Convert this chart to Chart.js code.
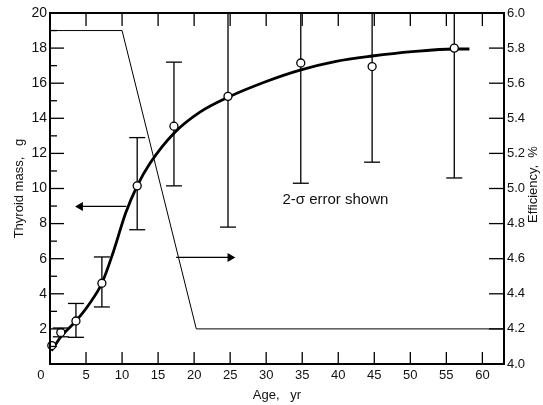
<!DOCTYPE html>
<html><head><meta charset="utf-8">
<script src="https://cdn.jsdelivr.net/npm/chart.js@4/dist/chart.umd.min.js"></script>
<style>html,body{margin:0;padding:0;background:#fff}#wrap{width:543px;height:405px}</style>
</head><body><div id="wrap"><canvas id="c" width="543" height="405"></canvas></div>
<script>
// ---- data ----
const ages        = [0.25, 1.5, 3.6, 7.2, 12.1, 17.2, 24.7, 34.8, 44.7, 56.1];
const thyroidMass = [1.05, 1.8, 2.45, 4.6, 10.15, 13.55, 15.25, 17.15, 16.95, 18.0];
const errLow      = [null, 1.55, 1.52, 3.25, 7.65, 10.15, 7.8, 10.3, 11.5, 10.6];
const errHigh     = [null, 2.05, 3.45, 6.1, 12.9, 17.2, 22.7, 24.0, 22.4, 25.4];

const fitAges = [0.2, 1.5, 3.6, 5.5, 7.2, 8.8, 10.5, 12.1, 13.9, 17.2, 20.8, 24.7, 30, 34.7, 39.7, 44.7, 50.3, 56, 58.2];
const fitMass = [0.75, 1.55, 2.45, 3.45, 4.6, 6.4, 8.6, 10.15, 11.45, 13.15, 14.35, 15.2, 16.1, 16.75, 17.25, 17.55, 17.8, 17.95, 17.95];

const effAges = [0, 10, 20.3, 63];
const efficiency = [5.9, 5.9, 4.2, 4.2];

const xTicks  = [0,5,10,15,20,25,30,35,40,45,50,55,60];
const yTicks  = [2,4,6,8,10,12,14,16,18,20];
const yMinorTicks = [1,3,5,7,9,11,13,15,17,19];
const y2Ticks = [4.0,4.2,4.4,4.6,4.8,5.0,5.2,5.4,5.6,5.8,6.0];

const leftArrow  = {x: [10.6, 4.2], y: 8.98};
const rightArrow = {x: [17.5, 25.0], y: 6.07};
const noteText = '2-\u03c3 error shown';
const notePos = {x: 39.6, y: 9.35};

// ---- derived datasets ----
const pts = ages.map((a,i)=>({x:a, y:thyroidMass[i]}));
const fit = fitAges.map((a,i)=>({x:a, y:fitMass[i]}));
const eff = effAges.map((a,i)=>({x:a, y:efficiency[i]}));
const stems = [];
const caps = [];
ages.forEach((a,i)=>{
  if (errLow[i]==null) return;
  stems.push({x:a,y:errLow[i]},{x:a,y:errHigh[i]},{x:a,y:null});
  caps.push({x:a,y:errLow[i]},{x:a,y:errHigh[i]});
});

const FONT = "'Liberation Sans', Arial, sans-serif";

const framePlugin = {
  id:'frame',
  afterDatasetsDraw(chart){
    const {ctx, chartArea:{left,right,top,bottom}, scales:{x,y,y2}} = chart;
    ctx.save();
    ctx.strokeStyle='#000';
    const ln=(a,b,c,d)=>{ctx.beginPath();ctx.moveTo(a,b);ctx.lineTo(c,d);ctx.stroke();};
    ctx.lineWidth=1.3;
    xTicks.forEach(v=>{ if(v===0) return; const p=x.getPixelForValue(v); ln(p,bottom,p,bottom-12); ln(p,top,p,top+13); });
    yTicks.forEach(v=>{ const p=y.getPixelForValue(v); ln(left,p,left+14,p); });
    yMinorTicks.forEach(v=>{ const p=y.getPixelForValue(v); ln(left,p,left+7,p); });
    y2Ticks.forEach(v=>{ const p=y2.getPixelForValue(v); ln(right,p,right-15,p); });
    ctx.lineWidth=2;
    ctx.strokeRect(left,top,right-left,bottom-top);
    // right axis title (reads bottom to top)
    ctx.fillStyle='#111';
    ctx.font='13px '+FONT;
    ctx.textAlign='center'; ctx.textBaseline='middle';
    ctx.save(); ctx.translate(533,(top+bottom)/2-4); ctx.rotate(-Math.PI/2);
    ctx.fillText('Efficiency,  %',0,0); ctx.restore();
    // note
    ctx.font='15px '+FONT;
    ctx.fillText(noteText, x.getPixelForValue(notePos.x), y.getPixelForValue(notePos.y));
    ctx.restore();
  }
};

new Chart(document.getElementById('c'), {
  type:'line',
  data:{datasets:[
    {data:pts, showLine:false, pointRadius:4, pointBackgroundColor:'#fff', pointBorderColor:'#000', pointBorderWidth:1.3, clip:false, order:0},
    {data:fit, borderColor:'#000', borderWidth:2.8, pointRadius:0, cubicInterpolationMode:'monotone', order:1},
    {data:stems, borderColor:'#000', borderWidth:1.3, pointRadius:0, spanGaps:false, order:2},
    {data:caps, showLine:false, pointStyle:'line', pointRadius:8, pointBorderColor:'#000', pointBorderWidth:1.3, order:3},
    {data:eff, yAxisID:'y2', borderColor:'#000', borderWidth:1, pointRadius:0, tension:0, order:4},
    {data:leftArrow.x.map(v=>({x:v,y:leftArrow.y})), borderColor:'#000', borderWidth:1.2, pointRadius:[0,4], pointStyle:'triangle', pointRotation:-90, pointBackgroundColor:'#000', pointBorderColor:'#000', order:5},
    {data:rightArrow.x.map(v=>({x:v,y:rightArrow.y})), borderColor:'#000', borderWidth:1.2, pointRadius:[0,4], pointStyle:'triangle', pointRotation:90, pointBackgroundColor:'#000', pointBorderColor:'#000', order:6}
  ]},
  options:{
    responsive:false, animation:false, events:[],
    layout:{padding:{top:13,left:0,right:0,bottom:0}},
    plugins:{legend:{display:false}, tooltip:{enabled:false}},
    scales:{
      x:{type:'linear', min:0, max:63,
        afterBuildTicks:s=>{s.ticks=xTicks.map(v=>({value:v}));},
        afterFit:s=>{s.height=41;},
        grid:{display:false, drawTicks:false}, border:{display:false},
        ticks:{color:'#111', font:{size:13, family:FONT}, padding:4, maxRotation:0, autoSkip:false,
               callback:v=> v===0 ? '0     ' : String(v)},
        title:{display:true, text:'Age,   yr', color:'#111', font:{size:13, family:FONT}, padding:{top:0,bottom:2}}
      },
      y:{type:'linear', position:'left', min:0, max:20,
        afterBuildTicks:s=>{s.ticks=yTicks.map(v=>({value:v}));},
        afterFit:s=>{s.width=50;},
        grid:{display:false, drawTicks:false}, border:{display:false},
        ticks:{color:'#111', font:{size:14, family:FONT}, padding:3},
        title:{display:true, text:'Thyroid mass,   g', color:'#111', font:{size:13, family:FONT}, padding:{top:12,bottom:0}}
      },
      y2:{type:'linear', position:'right', min:4, max:6,
        afterBuildTicks:s=>{s.ticks=y2Ticks.map(v=>({value:v}));},
        afterFit:s=>{s.width=39;},
        grid:{display:false, drawTicks:false}, border:{display:false},
        ticks:{color:'#111', font:{size:13, family:FONT}, padding:3, callback:v=>Number(v).toFixed(1)}
      }
    }
  },
  plugins:[framePlugin]
});
</script></body></html>
